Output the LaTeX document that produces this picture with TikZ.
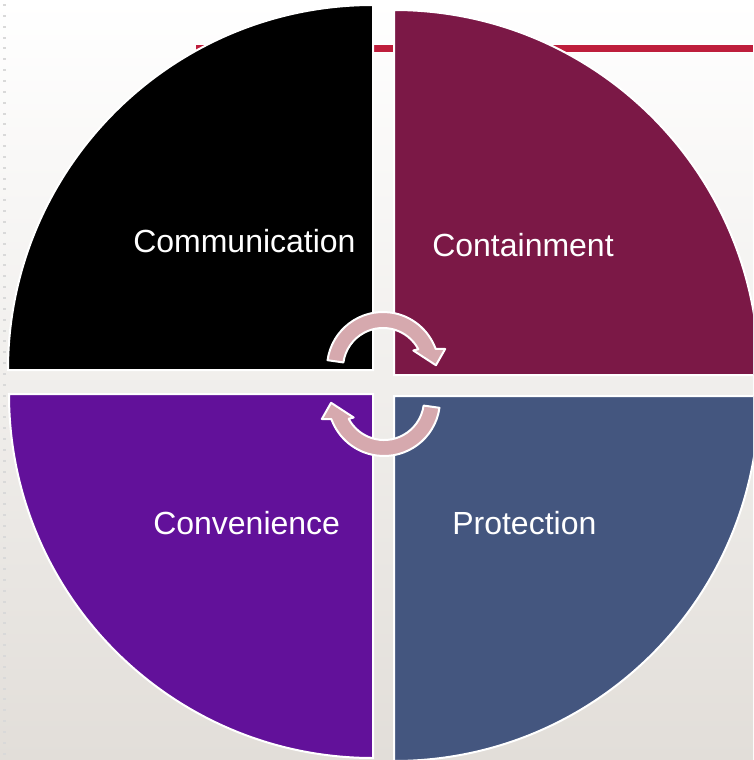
\documentclass[tikz,border=0pt]{standalone}
\usepackage{fontspec}
\setmainfont{Liberation Sans}
\definecolor{commcol}{HTML}{000000}
\definecolor{contcol}{HTML}{7B1846}
\definecolor{convcol}{HTML}{62119A}
\definecolor{protcol}{HTML}{44567F}
\definecolor{arrowcol}{HTML}{D6A9AE}
\definecolor{rulecol}{HTML}{BE1E3C}
\definecolor{bgcol}{HTML}{E2DED9}
\tikzset{
    sector/.style={draw=white, line width=1.5pt, fill=#1},
    cyclearrow/.style={draw=white, line width=1.5pt, fill=arrowcol, line join=round},
    caption/.style={text=white, inner sep=0, anchor=base west, font=\fontsize{24}{28}\selectfont}
}

\begin{document}
\begin{tikzpicture}[x=0.75pt, y=0.75pt]
    \useasboundingbox (0,0) rectangle (753,-760);
    \clip (0,0) rectangle (753,-760);
    \shade[top color=white, bottom color=bgcol] (0,0) rectangle (753,-760);
    \foreach \i in {0,...,69}
        \fill[gray!30] (3,-4-\i*10.85) rectangle ++(3,-2);
    % rule behind the circle
    \draw[white, line width=6.75pt] (196,-48.5) -- (753,-48.5);
    \draw[rulecol, line width=5.25pt] (196,-48.5) -- (753,-48.5);
    % quarters
    \filldraw[sector=commcol] (373,-370) -- (8,-370) arc (180:90:365) -- cycle;
    \filldraw[sector=contcol] (394,-375) -- (394,-10) arc (90:0:365) -- cycle;
    \filldraw[sector=convcol] (373,-394) -- (9,-394) arc (180:270:364) -- cycle;
    \filldraw[sector=protcol] (394,-396) -- (759,-396) arc (0:-90:365) -- cycle;
    \node[caption] (comm) at (133,-252) {Communication};
    \node[caption] (cont) at (432,-256) {Containment};
    \node[caption] (conv) at (153,-534) {Convenience};
    \node[caption] (prot) at (452,-534) {Protection};
    % the two turning arrows
    \foreach \cx/\cy/\rot in {383/-368/0, 384/-400/180}
        \filldraw[cyclearrow, shift={(\cx,\cy)}, rotate=\rot]
            (172:56) arc (172:20:56) -- (17:65) -- (3:53) -- (30:35) -- (28:40) arc (28:172:40) -- cycle;
\end{tikzpicture}
\end{document}
